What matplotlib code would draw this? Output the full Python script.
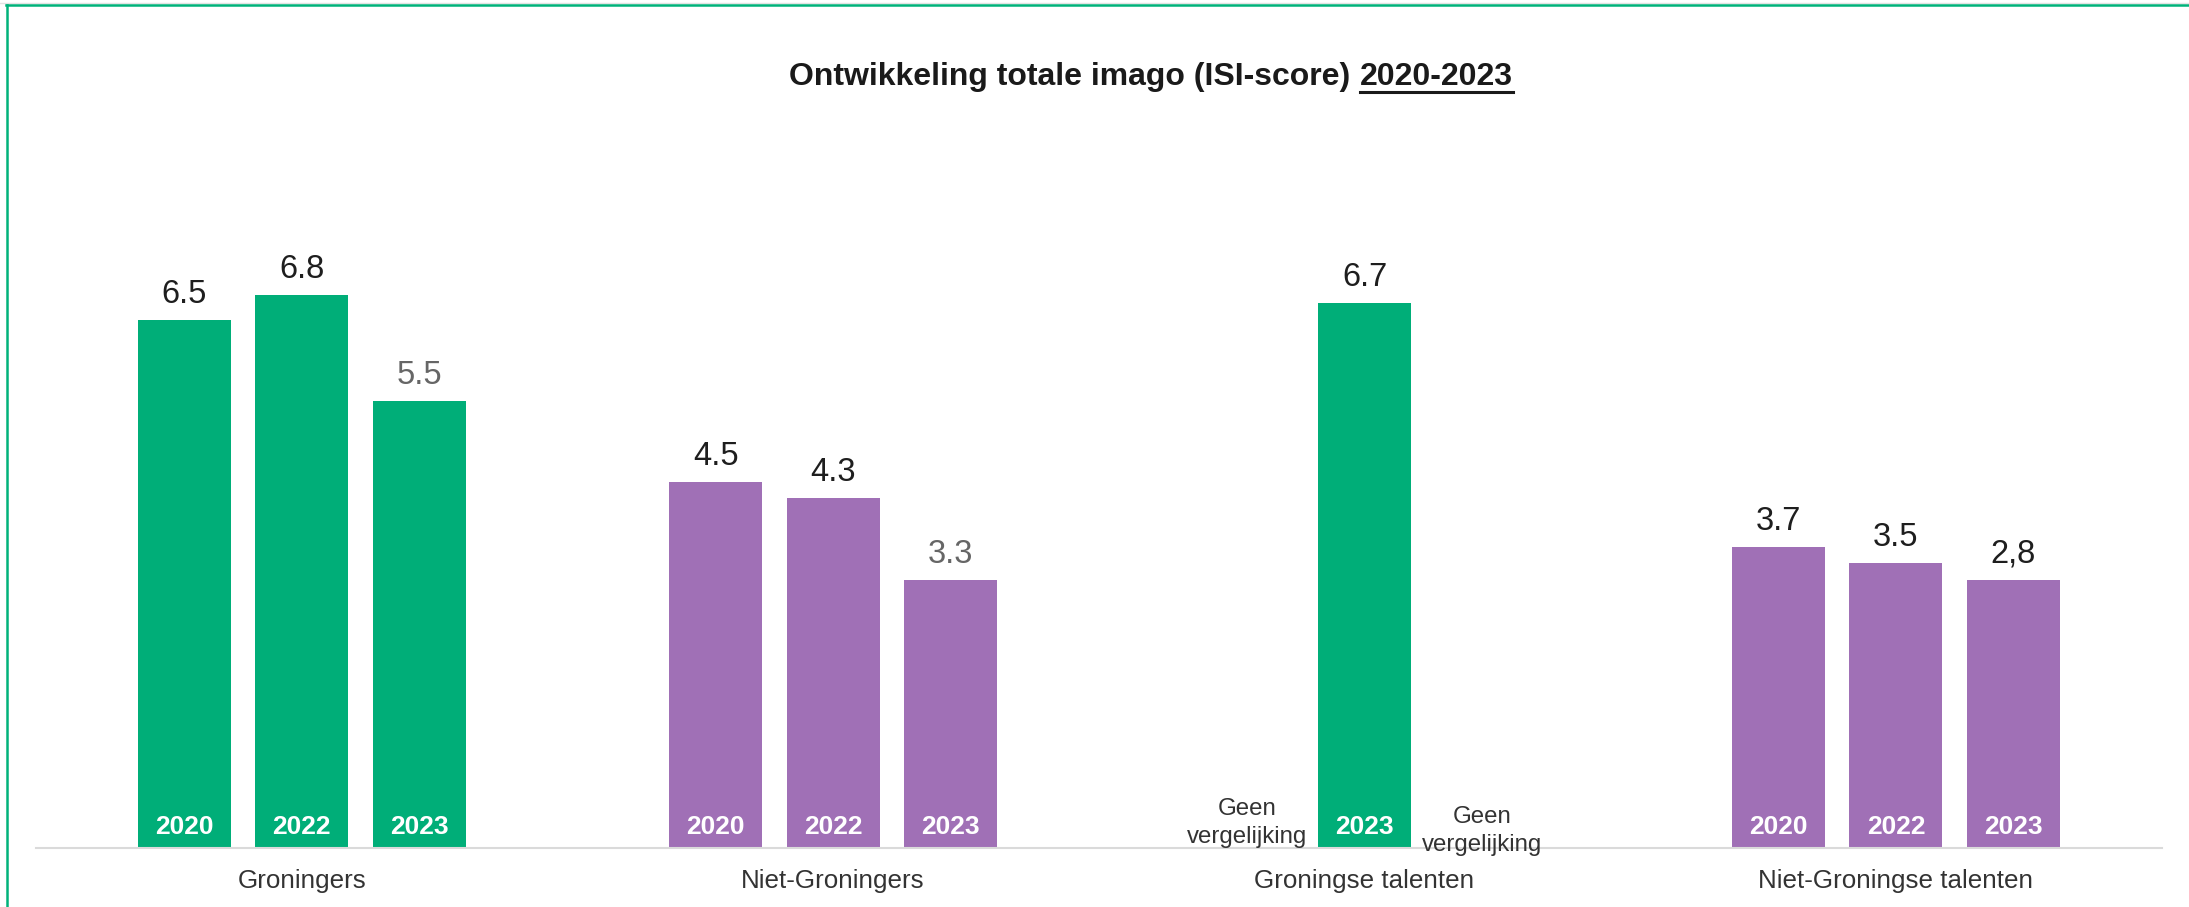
import numpy as np
import matplotlib
matplotlib.use('Agg')
import matplotlib.pyplot as plt
from matplotlib.lines import Line2D

plt.rcParams['font.family'] = ['Liberation Sans', 'DejaVu Sans']

# Data
categories = ['Groningers', 'Niet-Groningers', 'Groningse talenten', 'Niet-Groningse talenten']
years = ['2020', '2022', '2023']
values_2020 = [6.5, 4.5, np.nan, 3.7]
values_2022 = [6.8, 4.3, np.nan, 3.5]
values_2023 = [5.5, 3.3, 6.7, 3.3]
labels_2020 = ['6.5', '4.5', '', '3.7']
labels_2022 = ['6.8', '4.3', '', '3.5']
labels_2023 = ['5.5', '3.3', '6.7', '2,8']
no_data_text = 'Geen\nvergelijking'

green = '#00AE78'
purple = '#A070B6'
border_green = '#00B27A'
group_colors = [green, purple, green, purple]
label_dark = '#1E1E1E'
label_grey = '#666666'
grey_2023 = [True, True, False, False]

W, H = 2189, 907
fig = plt.figure(figsize=(W / 100, H / 100), dpi=100)

px_per_unit = 81.3
ymax = 8.0
base_y = 848
ax = fig.add_axes([36 / W, (H - base_y) / H, (2161.7 - 36) / W, ymax * px_per_unit / H])
ax.set_xlim(-0.5, 3.5)
ax.set_ylim(0, ymax)

step = 0.221
bar_w = 0.175

all_vals = [values_2020, values_2022, values_2023]
all_labels = [labels_2020, labels_2022, labels_2023]

for g in range(len(categories)):
    vals = [v[g] for v in all_vals]
    present = [k for k in range(3) if not np.isnan(vals[k])]
    if len(present) == 1:
        xs = {present[0]: g}
    else:
        xs = {k: g + (k - 1) * step for k in present}
    for k, x in xs.items():
        ax.bar(x, vals[k], width=bar_w, color=group_colors[g], zorder=2)
        col = label_grey if (k == 2 and grey_2023[g]) else label_dark
        ax.annotate(all_labels[k][g], (x, vals[k]), xytext=(0, 17 * 0.72),
                    textcoords='offset points', ha='center', va='baseline',
                    fontsize=23.5, color=col)
        ax.annotate(years[k], (x, 0), xytext=(0, 14 * 0.72),
                    textcoords='offset points', ha='center', va='baseline',
                    fontsize=19, fontweight='bold', color='white', zorder=3)
    # "Geen vergelijking" in the empty slots left and right of a lone bar
    if len(present) == 1:
        for side, dy in zip([-1, 1], [0, -8]):
            ax.annotate(no_data_text, (g + side * step, 0), xytext=(0, dy * 0.72),
                        textcoords='offset points', ha='center', va='bottom',
                        fontsize=17.3, color='#333333', linespacing=1.35)

ax.set_xticks(range(len(categories)), categories, fontsize=18.7, color='#333333')
ax.tick_params(axis='x', length=0, pad=15.3)
ax.set_yticks([])
for s in ['top', 'right', 'left']:
    ax.spines[s].set_visible(False)
ax.spines['bottom'].set_color('#DADADA')
ax.spines['bottom'].set_linewidth(1.5)

# title with underlined year range
r = fig.canvas.get_renderer()
t1 = fig.text(0, 1 - 85 / H, 'Ontwikkeling totale imago (ISI-score)', fontsize=23,
              fontweight='bold', color='#1A1A1A', va='baseline', ha='left')
t2 = fig.text(0, 1 - 85 / H, '2020-2023', fontsize=23, fontweight='bold',
              color='#1A1A1A', va='baseline', ha='left')
w1 = t1.get_window_extent(r).width
w2 = t2.get_window_extent(r).width
gap = 9
left = 1151 - (w1 + gap + w2) / 2
t1.set_x(left / W)
t2.set_x((left + w1 + gap) / W)
x0 = (left + w1 + gap) / W
x1 = (left + w1 + gap + w2) / W
fig.add_artist(Line2D([x0, x1], [1 - 92 / H] * 2, color='#1A1A1A', lw=2.2,
                      transform=fig.transFigure))

# frame lines
fig.add_artist(Line2D([0, 1], [1 - 2.5 / H] * 2, color='#E3E3E3', lw=1,
                      transform=fig.transFigure))
fig.add_artist(Line2D([6 / W, 1], [1 - 5 / H] * 2, color=border_green, lw=1.8,
                      transform=fig.transFigure))
fig.add_artist(Line2D([7 / W] * 2, [0, 1 - 5 / H], color=border_green, lw=1.8,
                      transform=fig.transFigure))

fig.savefig('out.png', dpi=100, facecolor='white')
